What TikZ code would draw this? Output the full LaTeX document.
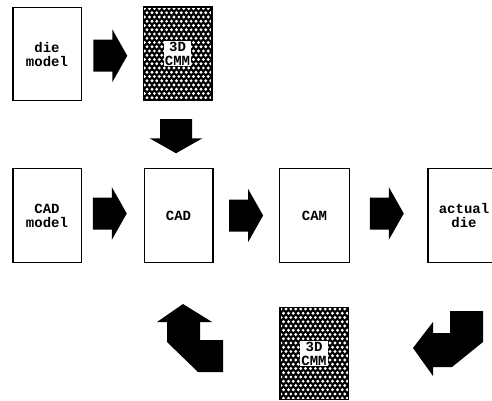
\documentclass[tikz,border=0pt]{standalone}
\usepackage{fontspec}
\setmainfont{Liberation Mono}
\usetikzlibrary{calc}
\newcommand\labfont{\bfseries\fontsize{14}{14}\selectfont}
\tikzset{
  box/.style={draw=black, line width=1.5pt, fill=white, minimum width=68.5pt, minimum height=93pt,
    inner sep=0pt, align=center, font=\labfont},
  dotted box/.style={box, path picture={
      \fill[black] (path picture bounding box.south west) rectangle (path picture bounding box.north east);
      \coordinate (nw) at (path picture bounding box.north west);
      \foreach \i in {0,...,22}{
        \foreach \j in {0,...,14}{
          \fill[white] ($(nw)+({1.3+\j*4.9+mod(\i,2)*2.45},{1.5+\i*4.25})$) circle (1.6pt);
        }
      }},
    label={[fill=white, inner sep=1pt, align=center, font=\labfont]center:3D\\CMM}},
  barrow/.pic={\fill[black] (-17,-16) -- (2,-16) -- (2,-26.5) -- (17,0) -- (2,26.5) -- (2,16) -- (-17,16) -- cycle;},
  bent/.style={fill=black}
}
\begin{document}
\begin{tikzpicture}[x=1pt, y=-1pt]
\useasboundingbox (0,0) rectangle (492,401);
% top row
\node[box] (die) at (47,54) {die\\model};
\node[dotted box] (cmm1) at (177.5,53.5) {};
% middle row
\node[box, minimum height=94pt] (cadm) at (47,215.5) {CAD\\model};
\node[box, minimum height=94pt] (cad) at (178.5,215.5) {CAD};
\node[box, minimum height=94pt, minimum width=70pt] (cam) at (314.5,215.5) {CAM};
\node[box, minimum height=94pt, minimum width=72pt] (act) at (464,215.5) {actual\\die};
% bottom
\node[dotted box, minimum height=92pt] (cmm2) at (314,353.5) {};
% straight block arrows
\pic at ($(die.east)!0.5!(cmm1.west)+(-2,2)$) {barrow};
\pic[rotate=-90] at ($(cmm1.south)!0.5!(cad.north)+(-2,2)$) {barrow};
\pic at ($(cadm.east)!0.5!(cad.west)+(-3,-2)$) {barrow};
\pic at ($(cad.east)!0.5!(cam.west)$) {barrow};
\pic at ($(cam.east)!0.5!(act.west)+(-2,-2)$) {barrow};
% bent arrows
\fill[bent] (183,304) -- (212,322) -- (200,322) -- (200,340) -- (223,340) -- (223,372)
  -- (198,372) -- (167,342) -- (167,322) -- (157,322) -- cycle;
\fill[bent] (450,311) -- (483,311) -- (483,342) -- (452,367) -- (433,367) -- (433,376)
  -- (413,348) -- (433,322) -- (433,333) -- (450,333) -- cycle;
\end{tikzpicture}
\end{document}
